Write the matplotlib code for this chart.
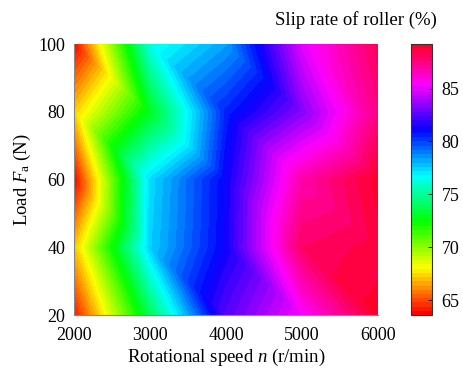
import numpy as np
import matplotlib
matplotlib.use("Agg")
import matplotlib.pyplot as plt
import matplotlib.tri as mtri
from matplotlib import cm, colors

# Data
speeds = [2000, 3000, 4000, 5000, 6000]          # r/min
loads = [20, 40, 60, 80, 100]                    # N
# slip rate (%) rows = loads (20..100), cols = speeds (2000..6000)
slip_20 = [64.0, 73.8, 82.5, 85.3, 89.0]
slip_40 = [67.0, 77.5, 81.3, 88.0, 88.6]
slip_60 = [63.6, 77.3, 81.2, 86.8, 89.0]
slip_80 = [67.2, 72.9, 80.5, 83.3, 87.5]
slip_100 = [63.7, 76.2, 78.3, 84.9, 88.2]
cbar_ticks = [65, 70, 75, 80, 85]
vmin, vmax = 63.6, 89.2
n_colors = 64

plt.rcParams['font.family'] = ['Liberation Serif', 'DejaVu Serif']
plt.rcParams['mathtext.fontset'] = 'custom'
plt.rcParams['mathtext.rm'] = 'Liberation Serif'
plt.rcParams['mathtext.it'] = 'Liberation Serif:italic'
plt.rcParams['font.size'] = 13

Z = np.array([slip_20, slip_40, slip_60, slip_80, slip_100])
X, Y = np.meshgrid(speeds, loads)
nx, ny = len(speeds), len(loads)

# triangulate each cell along the top-left -> bottom-right diagonal
def idx(i, j):
    return j * nx + i
tris = []
for j in range(ny - 1):
    for i in range(nx - 1):
        A, B, C, D = idx(i, j), idx(i + 1, j), idx(i + 1, j + 1), idx(i, j + 1)
        tris.append([A, B, D])
        tris.append([B, C, D])
triang = mtri.Triangulation(X.ravel(), Y.ravel(), np.array(tris))

base = plt.get_cmap('hsv')
band_colors = [base(k / n_colors) for k in range(n_colors)]
cmap64 = colors.ListedColormap(band_colors)
levels = np.linspace(vmin, vmax, n_colors + 1)
norm = colors.Normalize(vmin=vmin, vmax=vmax)

fig = plt.figure(figsize=(4.63, 3.73), dpi=100)
ax = fig.add_axes([0.160, 0.155, 0.656, 0.727])
ax.tricontourf(triang, Z.ravel(), levels=levels, colors=band_colors, extend='neither')
ax.set_xlim(2000, 6000)
ax.set_ylim(20, 100)
ax.set_xticks(speeds)
ax.set_yticks(loads)
ax.tick_params(axis='x', length=0, pad=8.5, labelsize=13)
ax.tick_params(axis='y', length=0, pad=6.5, labelsize=13)
for s in ['top', 'right']:
    ax.spines[s].set_visible(False)
for s in ['left', 'bottom']:
    ax.spines[s].set_color('#888888')
    ax.spines[s].set_linewidth(0.8)
ax.set_xlabel(r'Rotational speed $n$ (r/min)', fontsize=13.5, labelpad=2)
ax.set_ylabel(r'Load $F_{\mathrm{a}}$ (N)', fontsize=13.5, labelpad=4)

cax = fig.add_axes([0.888, 0.155, 0.045, 0.727])
sm = cm.ScalarMappable(norm=norm, cmap=cmap64)
cb = fig.colorbar(sm, cax=cax, ticks=cbar_ticks)
cb.outline.set_edgecolor('#333333')
cb.outline.set_linewidth(0.8)
cax.tick_params(direction='in', length=3, width=0.6, labelsize=13, pad=7)
fig.text(0.944, 0.945, 'Slip rate of roller (%)', ha='right', va='center', fontsize=13.5)

fig.savefig('out.png', dpi=100)
